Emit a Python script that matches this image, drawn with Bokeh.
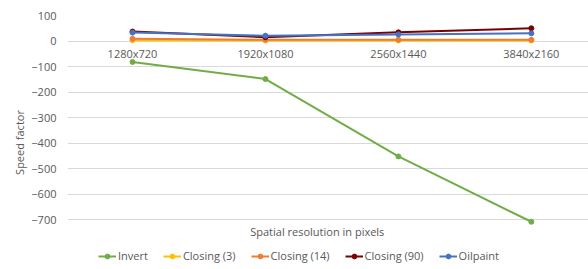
from bokeh.plotting import figure
from bokeh.models import Range1d, FixedTicker, Legend, LegendItem, ColumnDataSource
from bokeh.core.properties import value
from bokeh.embed import file_html
from bokeh.resources import INLINE

resolutions = ["1280x720", "1920x1080", "2560x1440", "3840x2160"]
invert = [-82, -149, -452, -708]
closing3 = [3, 2, 2, 2]
closing14 = [9, 5, 5, 5]
closing90 = [37, 15, 34, 50]
oilpaint = [33, 21, 26, 30]
y_ticks = [100, 0, -100, -200, -300, -400, -500, -600, -700]
x_title = "Spatial resolution in pixels"

series = [
    ("Invert", invert, "#70AD47"),
    ("Closing (3)", closing3, "#FFC000"),
    ("Closing (14)", closing14, "#ED7D31"),
    ("Closing (90)", closing90, "#7B0000"),
    ("Oilpaint", oilpaint, "#4472C4"),
]

FONT = "Open Sans"
GREY = "#595959"

xs = list(range(len(resolutions)))

p = figure(width=588, height=269, output_backend="svg", toolbar_location=None,
           x_range=Range1d(-0.489, 3.43), y_range=Range1d(-895, 100),
           min_border_left=67, min_border_right=0, min_border_top=15, min_border_bottom=0)
p.outline_line_color = None
p.background_fill_color = "white"
p.border_fill_color = "white"

# y axis
p.yaxis.ticker = FixedTicker(ticks=y_ticks)
p.yaxis.axis_line_color = None
p.yaxis.major_tick_line_color = None
p.yaxis.minor_tick_line_color = None
p.yaxis.major_label_text_font = FONT
p.yaxis.major_label_text_font_size = "11px"
p.yaxis.major_label_text_color = GREY
p.yaxis.axis_label = "Speed factor"
p.yaxis.axis_label_text_font = FONT
p.yaxis.axis_label_text_font_size = "11px"
p.yaxis.axis_label_text_font_style = "normal"
p.yaxis.axis_label_text_color = GREY
p.yaxis.axis_label_standoff = 1
p.ygrid.grid_line_color = "#D9D9D9"
p.ygrid.grid_line_width = 1

p.xaxis.visible = False
p.xgrid.grid_line_color = None

# category labels along the zero line
lab_src = ColumnDataSource(dict(x=xs, y=[0] * len(xs), t=resolutions))
p.text(x="x", y="y", text="t", source=lab_src, text_font=value(FONT),
       text_font_size="11px", text_color=GREY, text_align="center",
       text_baseline="top", y_offset=5)

# x axis title just under the lowest gridline
title_src = ColumnDataSource(dict(x=[1.39], y=[min(y_ticks)], t=[x_title]))
p.text(x="x", y="y", text="t", source=title_src, text_font=value(FONT),
       text_font_size="11px", text_color=GREY, text_align="center",
       text_baseline="middle", y_offset=12)

items = []
for name, vals, col in series:
    src = ColumnDataSource(dict(x=xs, y=vals))
    r1 = p.line("x", "y", source=src, line_color=col, line_width=2)
    r2 = p.scatter("x", "y", source=src, fill_color=col, line_color=col, size=5)
    items.append(LegendItem(label=name, renderers=[r1, r2]))

legend = Legend(items=items, orientation="horizontal", location=(31, 6))
legend.label_text_font = FONT
legend.label_text_font_size = "11px"
legend.label_text_color = GREY
legend.border_line_color = None
legend.background_fill_alpha = 0
legend.glyph_width = 18
legend.glyph_height = 12
legend.label_height = 12
legend.label_standoff = 2
legend.spacing = 15
legend.padding = 0
legend.margin = 0
p.add_layout(legend, "center")

open("out.html", "w").write(file_html(p, INLINE))
